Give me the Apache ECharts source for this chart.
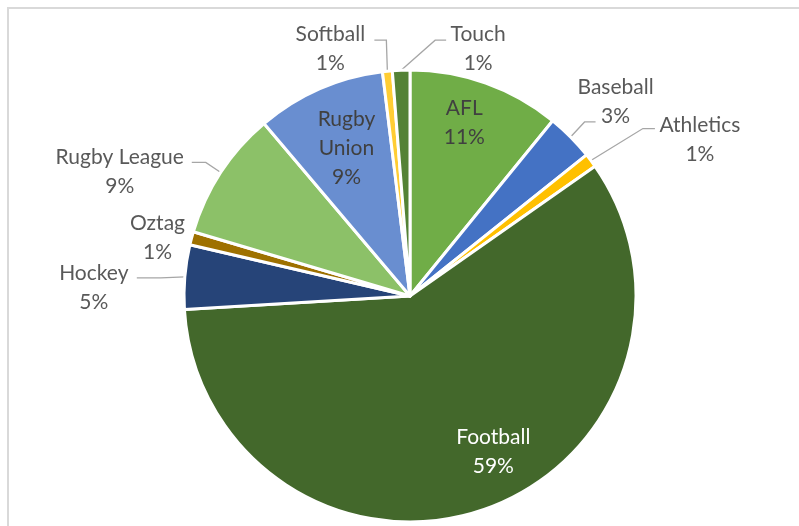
<!DOCTYPE html>
<html>
<head>
<meta charset="utf-8">
<script src="https://cdn.jsdelivr.net/npm/echarts@6/dist/echarts.min.js"></script>
<style>
  html, body { margin: 0; padding: 0; background: #fff; }
  #main { width: 799px; height: 526px; }
</style>
</head>
<body>
<div id="main"></div>
<script>
// slices go clockwise from 12 o'clock
const categories = ['AFL', 'Baseball', 'Athletics', 'Football', 'Hockey', 'Oztag', 'Rugby League', 'Rugby Union', 'Softball', 'Touch'];
const shares = [10.9, 3.4, 1.0, 58.9, 4.6, 0.95, 9.25, 9.25, 0.7, 1.25];
const sliceColors = ['#70ad47', '#4472c4', '#ffc000', '#43682b', '#264478', '#9e7100', '#8cc168', '#698ed0', '#ffcd33', '#548235'];

// these three are labelled on the slice, the rest hang outside
const insideLabels = ['AFL', 'Rugby Union', 'Football'];
const insideColor = { 'AFL': '#404040', 'Rugby Union': '#404040', 'Football': '#ffffff' };
const insideNudge = { 'AFL': [-3, -12], 'Rugby Union': [5, 9], 'Football': [27, -6] };

// leader line: elbow offset from slice edge, horizontal run, text centre from line end
const leaders = {
  'Softball':     { elbow: [-1, -31], run: -12, text: [-44, 9] },
  'Touch':        { elbow: [34, -30], run: 11,  text: [32, 9] },
  'Baseball':     { elbow: [14, -15], run: 11,  text: [20, -20] },
  'Athletics':    { elbow: [52, -32], run: 12,  text: [45, 11] },
  'Rugby League': { elbow: [-15, -10], run: -14, text: [-72, 9] },
  'Oztag':        { elbow: [0, 0],    run: 0,   text: [-34, 0] },
  'Hockey':       { elbow: [-24, 1],  run: -24, text: [-43, 10] }
};

const font = { fontFamily: 'Lato', fontSize: 21, lineHeight: 29 };
const pct = (p) => Math.round(p.percent) + '%';

const chart = echarts.init(document.getElementById('main'));

const outerData = categories.map((name, i) => {
  const item = { name: name, value: shares[i], itemStyle: { color: sliceColors[i] } };
  if (insideLabels.includes(name)) {
    item.label = { show: false };
    item.labelLine = { show: false };
  }
  return item;
});

const innerData = categories.map((name, i) => {
  const item = { name: name, value: shares[i] };
  item.label = insideLabels.includes(name) ? { show: true, color: insideColor[name] } : { show: false };
  return item;
});

chart.setOption({
  backgroundColor: '#ffffff',
  animation: false,
  graphic: [{
    type: 'rect',
    silent: true,
    z: -1,
    shape: { x: 8, y: 8, width: 900, height: 600 },
    style: { fill: 'none', stroke: '#d9d9d9', lineWidth: 2 }
  }],
  series: [
    {
      type: 'pie',
      silent: true,
      center: [410, 296],
      radius: 226,
      startAngle: 90,
      clockwise: true,
      avoidLabelOverlap: false,
      itemStyle: { borderColor: '#ffffff', borderWidth: 3 },
      label: Object.assign({
        show: true,
        position: 'outside',
        color: '#595959',
        formatter: (p) => p.name + '\n' + pct(p)
      }, font),
      labelLine: { show: true, length: 20, length2: 10, lineStyle: { color: '#a6a6a6', width: 1.3 } },
      labelLayout: function (params) {
        const cfg = leaders[categories[params.dataIndex]];
        const pts = params.labelLinePoints;
        if (!cfg || !pts) return {};
        const a = pts[0];
        const elbow = [a[0] + cfg.elbow[0], a[1] + cfg.elbow[1]];
        const end = [elbow[0] + cfg.run, elbow[1]];
        return {
          x: end[0] + cfg.text[0],
          y: end[1] + cfg.text[1],
          align: 'center',
          verticalAlign: 'middle',
          labelLinePoints: [a, elbow, end]
        };
      },
      data: outerData
    },
    {
      // same slices again, invisible, only to carry the labels that sit on the pie
      type: 'pie',
      silent: true,
      center: [410, 296],
      radius: [110, 226],
      startAngle: 90,
      clockwise: true,
      avoidLabelOverlap: false,
      itemStyle: { color: 'rgba(0,0,0,0)', borderWidth: 0 },
      label: Object.assign({
        position: 'inside',
        formatter: (p) => p.name.replace(' ', '\n') + '\n' + pct(p)
      }, font),
      labelLine: { show: false },
      labelLayout: function (params) {
        const n = insideNudge[categories[params.dataIndex]];
        if (!n) return {};
        const r = params.labelRect;
        return {
          x: r.x + r.width / 2 + n[0],
          y: r.y + r.height / 2 + n[1],
          align: 'center',
          verticalAlign: 'middle'
        };
      },
      data: innerData
    }
  ]
});
</script>
</body>
</html>
